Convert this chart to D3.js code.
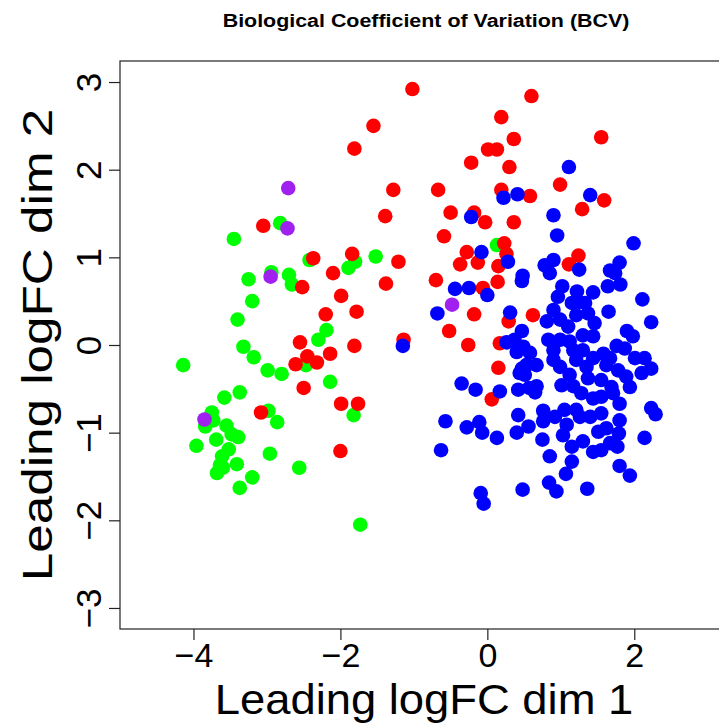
<!DOCTYPE html>
<html><head><meta charset="utf-8">
<script src="https://cdn.jsdelivr.net/npm/d3@7"></script>
<style>body{margin:0;background:#fff}svg{display:block}</style>
</head><body><svg id="c" width="719" height="723"></svg>
<script>
const title = "Biological Coefficient of Variation (BCV)";
const xLabel = "Leading logFC dim 1";
const yLabel = "Leading logFC dim 2";
const xTicks = [-4, -2, 0, 2];
const yTicks = [-3, -2, -1, 0, 1, 2, 3];

const greenPts = [[-2.82,1.39],[-3.45,1.21],[-2.42,0.97],[-2.94,0.83],[-3.25,0.75],[-2.70,0.80],[-2.66,0.69],[-3.20,0.50],[-3.40,0.29],[-2.19,0.17],[-2.30,0.06],[-3.32,-0.02],[-3.18,-0.14],[-4.14,-0.23],[-2.47,-0.23],[-2.99,-0.29],[-2.80,-0.33],[-2.14,-0.42],[-3.58,-0.60],[-3.37,-0.54],[-3.75,-0.77],[-3.73,-0.86],[-3.84,-0.93],[-2.98,-0.75],[-2.86,-0.88],[-3.55,-0.92],[-3.48,-1.02],[-3.39,-1.05],[-3.96,-1.15],[-3.69,-1.08],[-3.52,-1.19],[-3.61,-1.27],[-3.64,-1.37],[-3.60,-1.40],[-3.68,-1.46],[-3.41,-1.36],[-2.96,-1.24],[-2.56,-1.40],[-3.20,-1.51],[-3.37,-1.63],[-1.80,0.95],[-1.89,0.88],[-1.52,1.01],[-1.82,-0.80],[-1.73,-2.05],[0.13,1.14]];

const redPts = [[-3.05,1.36],[-2.37,0.99],[-2.52,0.66],[-2.10,0.82],[-1.99,0.56],[-2.20,0.35],[-2.55,0.03],[-2.14,-0.10],[-2.45,-0.13],[-2.61,-0.22],[-2.32,-0.20],[-2.50,-0.49],[-1.99,-0.67],[-3.08,-0.77],[-2.00,-1.21],[-1.02,2.92],[-1.55,2.50],[-1.81,2.24],[0.01,2.23],[0.13,2.23],[-0.22,2.08],[-1.28,1.77],[-0.67,1.77],[-1.39,1.47],[-0.50,1.51],[-0.18,1.51],[-0.03,1.40],[-0.59,1.24],[-0.28,1.06],[-1.84,1.04],[-1.21,0.95],[-1.38,0.70],[-0.70,0.74],[-0.37,0.92],[-0.13,0.94],[-0.06,0.65],[-0.18,0.35],[-1.78,0.38],[-0.52,0.16],[-0.26,0.00],[-1.14,0.06],[-1.81,-0.01],[-1.76,-0.67],[0.06,-0.62],[0.60,2.84],[0.19,2.60],[0.36,2.35],[1.55,2.37],[0.30,2.03],[0.99,1.83],[0.19,1.77],[0.58,1.70],[1.59,1.65],[1.29,1.55],[0.36,1.40],[0.23,1.16],[0.26,1.04],[0.15,0.90],[0.14,0.72],[0.29,0.27],[0.62,0.34],[0.17,0.02],[0.15,-0.26],[1.24,1.02],[1.11,0.92]];

const bluePts = [[-0.22,1.46],[-0.08,1.06],[-0.44,0.64],[-0.25,0.65],[0.00,0.57],[-0.68,0.36],[-1.15,-0.01],[-0.35,-0.44],[-0.16,-0.51],[-0.57,-0.87],[-0.28,-0.94],[-0.11,-0.88],[-0.07,-1.00],[-0.63,-1.20],[-0.09,-1.69],[-0.05,-1.81],[1.11,2.03],[0.22,1.68],[0.41,1.72],[1.40,1.71],[0.90,1.48],[0.95,1.25],[1.99,1.16],[0.28,0.95],[0.48,0.79],[0.47,0.73],[0.31,0.37],[0.47,0.16],[0.26,0.03],[0.37,0.06],[0.40,-0.08],[0.49,-0.02],[0.58,-0.09],[0.47,-0.27],[0.53,-0.23],[0.67,-0.23],[0.44,-0.32],[0.51,-0.34],[0.17,-0.53],[0.42,-0.51],[0.57,-0.49],[0.67,-0.47],[0.65,-0.54],
[1.25,0.86],[0.90,0.97],[0.78,0.91],[0.85,0.82],[1.80,0.94],[1.67,0.85],[1.74,0.82],[1.02,0.67],[0.96,0.55],[1.22,0.61],[1.44,0.60],[1.64,0.67],[1.81,0.69],[1.24,0.49],[1.33,0.48],[1.15,0.48],[2.11,0.52],[0.90,0.40],[1.21,0.34],[1.37,0.36],[1.65,0.38],[0.81,0.27],[0.99,0.29],[1.10,0.21],[1.46,0.25],[2.23,0.26],[1.30,0.11],[1.44,0.10],[1.90,0.16],[1.98,0.10],[0.83,0.06],[0.99,0.06],[1.12,0.04],[1.76,-0.01],[1.87,-0.04],[0.90,-0.06],[1.17,-0.06],[1.30,-0.06],[1.58,-0.10],[1.67,-0.15],[0.90,-0.17],[1.21,-0.17],[1.44,-0.15],[2.01,-0.15],[2.14,-0.15],[2.23,-0.27],[0.99,-0.25],[1.35,-0.25],[1.62,-0.23],[1.78,-0.29],[2.10,-0.32],[1.12,-0.34],[1.37,-0.38],[1.55,-0.40],[1.89,-0.36],[1.01,-0.46],[1.17,-0.47],[1.69,-0.48],[1.94,-0.48],
[0.42,-0.80],[0.40,-1.00],[0.56,-0.93],[0.76,-0.75],[0.76,-0.87],[0.75,-1.08],[0.85,-1.27],[0.48,-1.65],[0.84,-1.57],[0.13,-1.06],
[1.28,-0.55],[1.44,-0.61],[1.55,-0.59],[1.71,-0.55],[1.80,-0.67],[2.23,-0.72],[2.29,-0.79],[0.92,-0.82],[1.05,-0.74],[1.21,-0.74],[1.26,-0.82],[1.40,-0.82],[1.55,-0.78],[1.08,-0.91],[1.03,-1.03],[1.80,-0.86],[1.62,-0.95],[1.51,-0.99],[1.79,-1.01],[1.30,-1.10],[1.15,-1.16],[1.44,-1.22],[1.55,-1.20],[1.67,-1.12],[1.77,-1.16],[2.14,-1.06],[1.15,-1.33],[1.80,-1.38],[1.94,-1.49],[1.07,-1.47],[0.94,-1.67],[1.36,-1.64]];

const purplePts = [[-2.71,1.79],[-2.72,1.33],[-2.95,0.78],[-3.85,-0.85],[-0.48,0.46]];

const groups = [
  {pts: greenPts, color: "#00FF00"},
  {pts: redPts, color: "#FF0000"},
  {pts: bluePts, color: "#0000FF"},
  {pts: purplePts, color: "#A020F0"}
];

const W = 719, H = 723;
const plot = {left: 120, right: 732, top: 61, bottom: 629};
const x = d3.scaleLinear().domain([-5, 3.33]).range([plot.left, plot.right]);
const y = d3.scaleLinear().domain([-3.24, 3.24]).range([plot.bottom, plot.top]);
const font = "'Liberation Sans', Arial, Helvetica, sans-serif";
const fmt = d => d < 0 ? "\u2212" + Math.abs(d) : String(d);

const svg = d3.select("#c");
svg.append("rect").attr("width", W).attr("height", H).attr("fill", "#fff");

// points
const pg = svg.append("g");
groups.forEach(g => {
  pg.append("g").selectAll("circle").data(g.pts).join("circle")
    .attr("cx", d => x(d[0])).attr("cy", d => y(d[1])).attr("r", 7.3)
    .attr("fill", g.color);
});

// box
svg.append("rect").attr("x", plot.left).attr("y", plot.top)
  .attr("width", plot.right - plot.left).attr("height", plot.bottom - plot.top)
  .attr("fill", "none").attr("stroke", "#222").attr("stroke-width", 1.2);

// x axis
const xa = svg.append("g").attr("transform", `translate(0,${plot.bottom})`)
  .call(d3.axisBottom(x).tickValues(xTicks).tickSize(11).tickPadding(3).tickFormat(fmt));
xa.select(".domain").remove();
xa.selectAll("line").attr("stroke", "#222").attr("stroke-width", 1.2);
xa.selectAll("text").attr("font-family", font).attr("font-size", 34).attr("fill", "#000");

// y axis
const ya = svg.append("g").attr("transform", `translate(${plot.left},0)`)
  .call(d3.axisLeft(y).tickValues(yTicks).tickSize(11).tickFormat(fmt));
ya.select(".domain").remove();
ya.selectAll("line").attr("stroke", "#222").attr("stroke-width", 1.2);
ya.selectAll("text")
  .attr("x", null).attr("dy", null)
  .attr("text-anchor", "middle")
  .attr("transform", "translate(-19,0) rotate(-90)")
  .attr("font-family", font).attr("font-size", 35).attr("fill", "#000");

// title
svg.append("text").attr("transform", `translate(${(plot.left + plot.right) / 2},27) scale(1.19,1)`)
  .attr("text-anchor", "middle").attr("font-family", font)
  .attr("font-weight", "bold").attr("font-size", 18).text(title);

// axis labels
svg.append("text").attr("transform", `translate(${(plot.left + plot.right) / 2 - 2},714) scale(1.08,1)`)
  .attr("text-anchor", "middle").attr("font-family", font)
  .attr("font-size", 42).text(xLabel);
svg.append("text").attr("transform", `translate(52,${(plot.top + plot.bottom) / 2}) rotate(-90) scale(1.22,1)`)
  .attr("text-anchor", "middle").attr("font-family", font)
  .attr("font-size", 42).text(yLabel);
</script></body></html>
